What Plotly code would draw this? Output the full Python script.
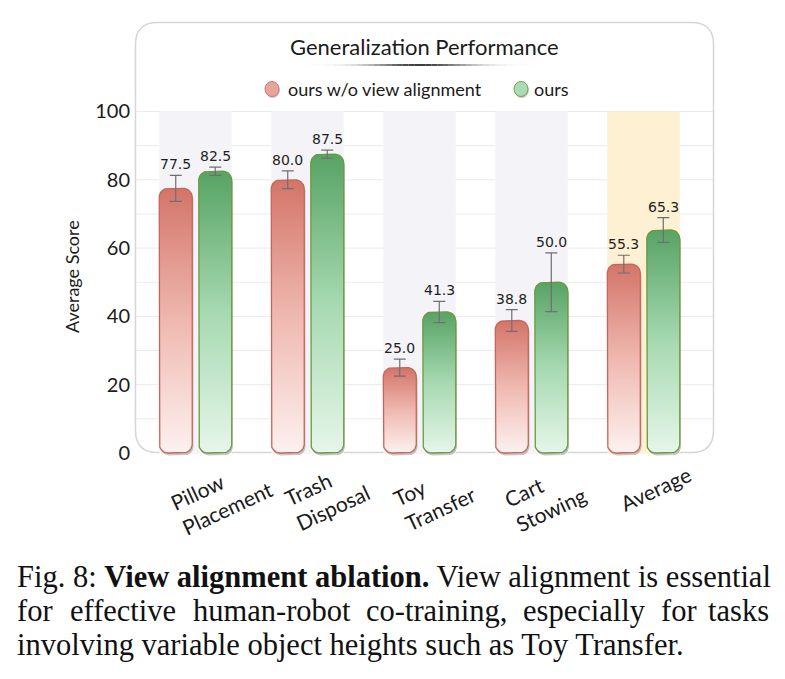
import numpy as np
import plotly.graph_objects as go

# ---------------- data ----------------
categories = ["Pillow<br>Placement", "Trash<br>Disposal", "Toy<br>Transfer", "Cart<br>Stowing", "Average"]
series_names = ["ours w/o view alignment", "ours"]
vals_wo = [77.5, 80.0, 25.0, 38.8, 55.3]
vals_ours = [82.5, 87.5, 41.3, 50.0, 65.3]
err_wo = [3.8, 2.6, 2.5, 3.2, 2.6]
err_ours = [1.2, 1.2, 3.1, 8.6, 3.6]
y_ticks = [0, 20, 40, 60, 80, 100]
grid_levels = [10, 20, 30, 40, 50, 60, 70, 80, 90, 100]
chart_title = "Generalization Performance"
y_title = "Average Score"
caption_line1 = "Fig. 8: <b>View alignment ablation.</b> View alignment is essential"
caption_line2 = ["for", "effective", "human-robot", "co-training,", "especially", "for", "tasks"]
caption_line3 = "involving variable object heights such as Toy Transfer."

# ---------------- geometry / style ----------------
W, H = 785, 679
PL, PR, PT, PB = 135, 714, 22, 457
PW, PH = PR - PL, PB - PT
XR = [-0.540, 4.629]
YR = [-1.17, 126.2]
XPX = PW / (XR[1] - XR[0])
YPX = PH / (YR[1] - YR[0])


def X(px):
    return (px - PL) / PW


def Y(py):
    return (PB - py) / PH


OFF = 19.75 / XPX
HALF = 16.5 / XPX

red_cs = [[0, "#fdf1ef"], [0.5, "#efb8b0"], [1, "#d47468"]]
green_cs = [[0, "#e6f6ea"], [0.5, "#a6d9b1"], [1, "#57a365"]]
red_line = "#c4665c"
green_line = "#6e9a3e"


def rounded_bar(xc, y0, y1, r_px=9, n=10):
    rx = r_px / XPX
    ry = min(r_px / YPX, (y1 - y0) / 2)
    x0, x1 = xc - HALF, xc + HALF
    pts = []
    for cx, cy, a0 in [(x1 - rx, y1 - ry, 0), (x0 + rx, y1 - ry, 90),
                       (x0 + rx, y0 + ry, 180), (x1 - rx, y0 + ry, 270)]:
        for t in np.linspace(a0, a0 + 90, n):
            pts.append((cx + rx * np.cos(np.radians(t)), cy + ry * np.sin(np.radians(t))))
    pts.append(pts[0])
    xs, ys = zip(*pts)
    return list(xs), list(ys)


fig = go.Figure()
shapes = []
annotations = []

# column shading
for i, _ in enumerate(categories):
    shapes.append(dict(type="rect", xref="x", yref="y", layer="below",
                       x0=i - OFF - HALF, x1=i + OFF + HALF, y0=0, y1=100,
                       line=dict(width=0),
                       fillcolor="#fdf0d3" if i == len(categories) - 1 else "#f4f4f8"))
# grid lines
for g in grid_levels:
    shapes.append(dict(type="line", xref="paper", yref="y", layer="below",
                       x0=X(136), x1=X(713), y0=g, y1=g,
                       line=dict(color="#ebebeb", width=1)))

# panel (rounded rectangle)
l, t, r, b, rad = 135.5, 22.5, 713.5, 452.5, 22
panel = (f"M {X(l+rad)},{Y(t)} L {X(r-rad)},{Y(t)} Q {X(r)},{Y(t)} {X(r)},{Y(t+rad)} "
         f"L {X(r)},{Y(b-rad)} Q {X(r)},{Y(b)} {X(r-rad)},{Y(b)} L {X(l+rad)},{Y(b)} "
         f"Q {X(l)},{Y(b)} {X(l)},{Y(b-rad)} L {X(l)},{Y(t+rad)} Q {X(l)},{Y(t)} {X(l+rad)},{Y(t)} Z")
shapes.append(dict(type="path", path=panel, xref="paper", yref="paper", layer="below",
                   line=dict(color="#d6d6d6", width=1.5), fillcolor="rgba(0,0,0,0)"))

# bars
for vals, errs, sign, cs, lc in [(vals_wo, err_wo, -1, red_cs, red_line),
                                  (vals_ours, err_ours, 1, green_cs, green_line)]:
    for i, v in enumerate(vals):
        xc = i + sign * OFF
        xs, ys = rounded_bar(xc, 0, v)
        fig.add_trace(go.Scatter(x=[x + 1.2 / XPX for x in xs], y=[y - 2.5 / YPX for y in ys],
                                 fill="toself", mode="lines", line=dict(width=0),
                                 fillcolor="rgba(70,70,70,0.30)", hoverinfo="skip", showlegend=False))
        fig.add_trace(go.Scatter(x=xs, y=ys, fill="toself", mode="lines",
                                 line=dict(color=lc, width=1.3),
                                 fillgradient=dict(type="vertical", colorscale=cs),
                                 hoverinfo="skip", showlegend=False))
    fig.add_trace(go.Scatter(x=[i + sign * OFF for i in range(len(vals))], y=vals, mode="markers",
                             marker=dict(size=2, color="rgba(0,0,0,0)"),
                             error_y=dict(type="data", array=errs, color="#6f6f6f", thickness=1.2, width=6),
                             hoverinfo="skip", showlegend=False))
    for i, (v, e) in enumerate(zip(vals, errs)):
        annotations.append(dict(x=i + sign * OFF, y=v + e, xref="x", yref="y", text=f"{v:.1f}",
                                showarrow=False, yanchor="bottom", xanchor="center", yshift=1,
                                font=dict(family="DejaVu Sans", size=14, color="#1e1e1e")))

# x category labels (rotated)
label_dx = [26.5, 19, 14.5, 13, 12]
label_y = [495, 495, 496, 497, 488]
for i, c in enumerate(categories):
    annotations.append(dict(x=i, y=Y(label_y[i]), xref="x", yref="paper", text=c, showarrow=False,
                            xshift=label_dx[i], xanchor="center", yanchor="middle", textangle=-25,
                            align="left", font=dict(family="Lato", size=21, color="#1a1a1a")))

# title and underline
annotations.append(dict(x=X(424), y=Y(46), xref="paper", yref="paper", text=chart_title,
                        showarrow=False, xanchor="center", yanchor="middle",
                        font=dict(family="Lato", size=22, color="#1a1a1a")))
nseg = 40
ux0, ux1, uy = 305, 535, 65
for k in range(nseg):
    a = ux0 + (ux1 - ux0) * k / nseg
    bb = ux0 + (ux1 - ux0) * (k + 1) / nseg
    tmid = (k + 0.5) / nseg
    alpha = 0.9 * np.exp(-((tmid - 0.5) / 0.22) ** 2)
    shapes.append(dict(type="line", xref="paper", yref="paper", x0=X(a), x1=X(bb), y0=Y(uy), y1=Y(uy),
                       line=dict(color=f"rgba(40,40,40,{alpha:.3f})", width=2)))

# legend
for (cx, fc, lc), (tx, name) in zip([(272, "#eaa39b", "#c87b72"), (521, "#aadbb4", "#74a150")],
                                     [(286, series_names[0]), (532, series_names[1])]):
    shapes.append(dict(type="circle", xref="paper", yref="paper", xsizemode="pixel", ysizemode="pixel",
                       xanchor=X(cx + 0.8), yanchor=Y(89 + 1.5), x0=-7, x1=7, y0=-7.5, y1=7.5,
                       fillcolor="rgba(90,90,90,0.35)", line=dict(width=0)))
    shapes.append(dict(type="circle", xref="paper", yref="paper", xsizemode="pixel", ysizemode="pixel",
                       xanchor=X(cx), yanchor=Y(89), x0=-7, x1=7, y0=-7.5, y1=7.5,
                       fillcolor=fc, line=dict(color=lc, width=1)))
    annotations.append(dict(x=X(tx), y=Y(89), xref="paper", yref="paper", text=name, showarrow=False,
                            xanchor="left", yanchor="middle",
                            font=dict(family="Lato", size=18, color="#1a1a1a")))

# y title
annotations.append(dict(x=X(72), y=Y(277), xref="paper", yref="paper", text=y_title, showarrow=False,
                        xanchor="center", yanchor="middle", textangle=-90,
                        font=dict(family="Lato", size=18, color="#1a1a1a")))

# caption
cap_font = dict(family="Liberation Serif", size=30.5, color="#111111")
annotations.append(dict(x=X(15), y=Y(577), xref="paper", yref="paper", text=caption_line1,
                        showarrow=False, xanchor="left", yanchor="middle", font=cap_font))
line2_x = [15, 68, 190.9, 363.9, 521, 659, 771]
for k, (w, x) in enumerate(zip(caption_line2, line2_x)):
    annotations.append(dict(x=X(x), y=Y(611), xref="paper", yref="paper", text=w, showarrow=False,
                            xanchor="right" if k == len(caption_line2) - 1 else "left",
                            yanchor="middle", font=cap_font))
annotations.append(dict(x=X(15), y=Y(645), xref="paper", yref="paper", text=caption_line3,
                        showarrow=False, xanchor="left", yanchor="middle", font=cap_font))

fig.update_layout(
    width=W, height=H, autosize=False,
    margin=dict(l=PL, r=W - PR, t=PT, b=H - PB, pad=0),
    paper_bgcolor="white", plot_bgcolor="rgba(0,0,0,0)",
    shapes=shapes, annotations=annotations, showlegend=False,
    xaxis=dict(range=XR, showgrid=False, zeroline=False, showticklabels=False, showline=False,
               fixedrange=True),
    yaxis=dict(range=YR, tickmode="array", tickvals=y_ticks, showgrid=False, zeroline=False,
               showline=False, ticks="", ticklabelstandoff=4,
               tickfont=dict(family="Lato", size=20, color="#1a1a1a"), fixedrange=True),
)

fig.write_html("out.html")
